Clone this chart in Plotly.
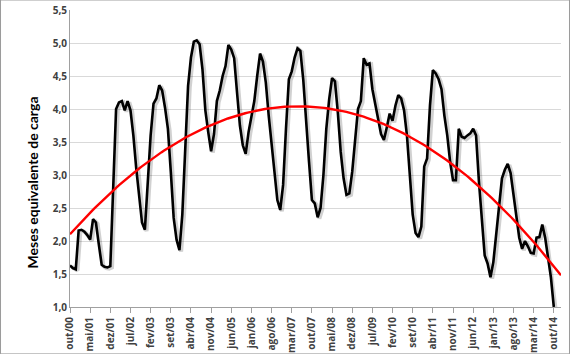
import numpy as np
import plotly.graph_objects as go

# Monthly values, out/2000 .. out/2014
values = [
    1.63, 1.59, 1.57, 2.16, 2.17, 2.14, 2.09, 2.02, 2.33, 2.28, 1.95, 1.64,
    1.61, 1.60, 1.62, 2.70, 4.00, 4.10, 4.12, 3.98, 4.12, 3.98, 3.60, 3.10,
    2.72, 2.28, 2.17, 2.90, 3.60, 4.08, 4.16, 4.36, 4.28, 4.02, 3.70, 3.05,
    2.35, 2.02, 1.86, 2.40, 3.45, 4.35, 4.78, 5.02, 5.04, 4.98, 4.60, 3.98,
    3.65, 3.36, 3.62, 4.12, 4.28, 4.50, 4.65, 4.97, 4.90, 4.77, 4.25, 3.75,
    3.45, 3.32, 3.65, 3.92, 4.12, 4.50, 4.84, 4.72, 4.40, 3.90, 3.45, 3.00,
    2.62, 2.47, 2.85, 3.70, 4.45, 4.57, 4.78, 4.92, 4.88, 4.44, 3.75, 3.20,
    2.62, 2.57, 2.36, 2.50, 3.00, 3.70, 4.15, 4.47, 4.42, 3.95, 3.35, 2.95,
    2.70, 2.72, 3.05, 3.55, 4.00, 4.12, 4.77, 4.67, 4.69, 4.30, 4.05, 3.85,
    3.62, 3.53, 3.72, 3.93, 3.82, 4.05, 4.21, 4.16, 3.98, 3.60, 3.00, 2.40,
    2.12, 2.06, 2.22, 3.13, 3.25, 4.05, 4.59, 4.54, 4.45, 4.30, 3.90, 3.60,
    3.20, 2.92, 2.92, 3.70, 3.58, 3.56, 3.60, 3.63, 3.70, 3.60, 2.90, 2.30,
    1.78, 1.66, 1.45, 1.68, 2.12, 2.52, 2.95, 3.08, 3.17, 3.03, 2.70, 2.35,
    2.05, 1.88, 2.00, 1.92, 1.82, 1.81, 2.05, 2.06, 2.25, 2.05, 1.72, 1.45,
    1.00,
]
tick_labels = ["out/00", "mai/01", "dez/01", "jul/02", "fev/03", "set/03", "abr/04",
               "nov/04", "jun/05", "jan/06", "ago/06", "mar/07", "out/07", "mai/08",
               "dez/08", "jul/09", "fev/10", "set/10", "abr/11", "nov/11", "jun/12",
               "jan/13", "ago/13", "mar/14", "out/14"]
tick_step = 7
forecast_months = 2.5
y_title = "Meses equivalente de carga"

months = np.arange(len(values))
coef = np.polyfit(months, values, 2)
trend_x = np.linspace(0, len(values) - 1 + forecast_months, 200)
trend_y = np.polyval(coef, trend_x)

fig = go.Figure()
fig.add_trace(go.Scatter(x=months + 0.6, y=np.array(values) - 0.02, mode="lines",
                         line=dict(color="rgba(0,0,0,0.18)", width=4),
                         hoverinfo="skip", showlegend=False))
fig.add_trace(go.Scatter(x=months, y=values, mode="lines",
                         line=dict(color="black", width=2.6), showlegend=False))
fig.add_trace(go.Scatter(x=trend_x, y=trend_y, mode="lines",
                         line=dict(color="#ff0000", width=2.4), showlegend=False))

fig.update_layout(
    width=570, height=354,
    margin=dict(l=70, r=9, t=10, b=47, autoexpand=False),
    paper_bgcolor="white", plot_bgcolor="white",
    separators=",.",
    font=dict(family="Open Sans", color="#404040"),
    shapes=[dict(type="rect", xref="paper", yref="paper",
                 x0=-0.1415, x1=1.0173, y0=-0.158, y1=1.0338,
                 line=dict(color="#9a9a9a", width=1), layer="below")],
    annotations=[dict(text=y_title, xref="paper", yref="paper",
                      x=-0.077, y=0.42, textangle=-90, showarrow=False,
                      xanchor="center", yanchor="middle",
                      font=dict(size=14, family="Lato", color="black", weight="bold"))],
)
fig.update_xaxes(
    range=[0, len(values) - 1 + forecast_months],
    tickmode="array",
    tickvals=list(range(0, len(values), tick_step)),
    ticktext=tick_labels,
    tickangle=-90, automargin=False,
    tickfont=dict(size=10, family="Open Sans", color="#404040", weight="bold"),
    ticks="outside", ticklen=5, tickcolor="#a0a0a0",
    showgrid=False, showline=True, linecolor="#a0a0a0", linewidth=1,
    zeroline=False,
)
fig.update_yaxes(
    range=[1.0, 5.5], dtick=0.5, tickformat=".1f", automargin=False,
    tickfont=dict(size=10, family="Open Sans", color="#404040", weight="bold"),
    showgrid=True, gridcolor="#d9d9d9", gridwidth=1,
    showline=True, linecolor="#a0a0a0", linewidth=1,
    ticks="", zeroline=False,
)
fig.write_html("out.html")
